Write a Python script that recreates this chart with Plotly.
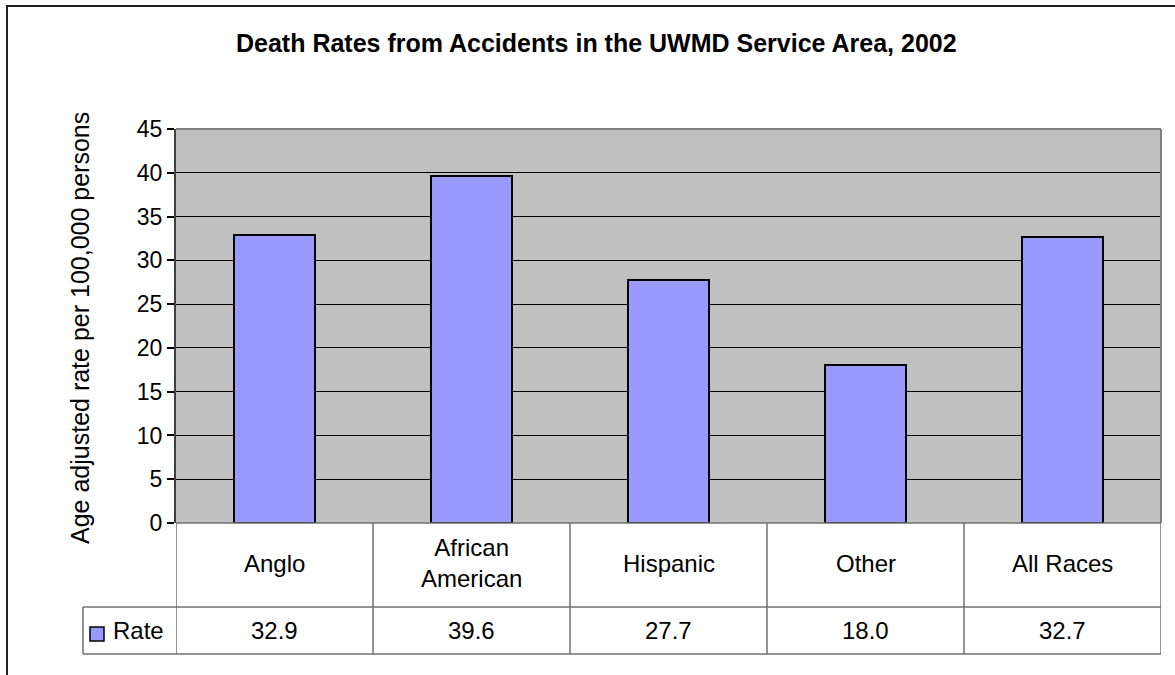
import plotly.graph_objects as go

# data
categories = ["Anglo", "African<br>American", "Hispanic", "Other", "All Races"]
rates = [32.9, 39.6, 27.7, 18.0, 32.7]
rate_labels = ["32.9", "39.6", "27.7", "18.0", "32.7"]
y_ticks = [0, 5, 10, 15, 20, 25, 30, 35, 40, 45]

W, H = 1175, 675
FONT = "Liberation Sans, Arial, sans-serif"
BAR = "#9999FF"


def px_x(p):
    return p / W


def px_y(p):
    return (H - p) / H


# plot area in pixels
left, right, top, bottom = 176, 1161, 129, 523
row1, row2 = 607, 654     # bottom of category row / value row
legend_left = 83

fig = go.Figure()

fig.add_trace(go.Bar(
    x=list(range(len(categories))),
    y=rates,
    width=0.41,
    marker=dict(color=BAR, line=dict(color="black", width=2)),
    name="Rate",
    showlegend=False,
))

shapes = []
# outer chart frame
shapes.append(dict(type="rect", xref="paper", yref="paper",
                   x0=px_x(7), x1=1.02, y0=-0.05, y1=px_y(6),
                   line=dict(color="#222222", width=2), layer="below"))
# top / right border of plot area
shapes.append(dict(type="line", xref="paper", yref="paper",
                   x0=px_x(left), x1=px_x(right), y0=px_y(top), y1=px_y(top),
                   line=dict(color="#808080", width=2)))
shapes.append(dict(type="line", xref="paper", yref="paper",
                   x0=px_x(right), x1=px_x(right), y0=px_y(top), y1=px_y(bottom),
                   line=dict(color="#808080", width=2)))

# data table grid
grid = dict(color="#707070", width=1.5)
for i in range(len(categories) + 1):
    shapes.append(dict(type="line", xref="x", yref="paper",
                       x0=i - 0.5, x1=i - 0.5, y0=px_y(row2), y1=px_y(bottom),
                       line=grid))
shapes.append(dict(type="line", xref="paper", yref="paper",
                   x0=px_x(left), x1=px_x(right), y0=px_y(bottom), y1=px_y(bottom),
                   line=grid))
for yy in (row1, row2):
    shapes.append(dict(type="line", xref="paper", yref="paper",
                       x0=px_x(legend_left), x1=px_x(right), y0=px_y(yy), y1=px_y(yy),
                       line=grid))
shapes.append(dict(type="line", xref="paper", yref="paper",
                   x0=px_x(legend_left), x1=px_x(legend_left), y0=px_y(row2), y1=px_y(row1),
                   line=grid))
# legend key
shapes.append(dict(type="rect", xref="paper", yref="paper",
                   x0=px_x(90), x1=px_x(104), y0=px_y(641), y1=px_y(627),
                   fillcolor=BAR, line=dict(color="black", width=1.5)))

annotations = []
for i, (c, v) in enumerate(zip(categories, rate_labels)):
    annotations.append(dict(x=i, y=px_y(563), xref="x", yref="paper",
                            text=c, showarrow=False, yanchor="middle",
                            font=dict(family=FONT, size=24, color="black")))
    annotations.append(dict(x=i, y=px_y((row1 + row2) / 2), xref="x", yref="paper",
                            text=v, showarrow=False, yanchor="middle",
                            font=dict(family=FONT, size=24, color="black")))
annotations.append(dict(x=px_x(111), y=px_y((row1 + row2) / 2), xref="paper", yref="paper",
                        text="Rate", showarrow=False, xanchor="left", yanchor="middle",
                        font=dict(family=FONT, size=24, color="black")))
annotations.append(dict(x=px_x(596), y=px_y(43), xref="paper", yref="paper",
                        text="<b>Death Rates from Accidents in the UWMD Service Area, 2002</b>",
                        showarrow=False, yanchor="middle",
                        font=dict(family=FONT, size=25, color="black")))
annotations.append(dict(x=px_x(64), y=px_y(328), xref="paper", yref="paper",
                        text="Age adjusted rate per 100,000 persons", textangle=-90,
                        showarrow=False,
                        font=dict(family=FONT, size=25, color="black")))

fig.update_layout(
    template="none",
    width=W, height=H,
    margin=dict(l=0, r=0, t=0, b=0, pad=0, autoexpand=False),
    paper_bgcolor="white",
    plot_bgcolor="#C0C0C0",
    shapes=shapes,
    annotations=annotations,
    bargap=0,
    showlegend=False,
    xaxis=dict(domain=[px_x(left), px_x(right)], range=[-0.5, len(categories) - 0.5],
               showticklabels=False, showgrid=False, zeroline=False, ticks="",
               showline=False, automargin=False, fixedrange=True),
    yaxis=dict(domain=[px_y(bottom), px_y(top)], range=[0, 45],
               tickvals=y_ticks, ticks="outside", ticklen=7, tickcolor="black",
               tickwidth=1.5,
               showgrid=True, gridcolor="black", gridwidth=1, zeroline=False,
               showline=True, linecolor="#404040", linewidth=2,
               tickfont=dict(family=FONT, size=23, color="black"),
               automargin=False, fixedrange=True),
)

fig.write_html("out.html", config={"displayModeBar": False},
               post_script="document.body.style.margin='0';document.body.style.overflow='hidden';")
